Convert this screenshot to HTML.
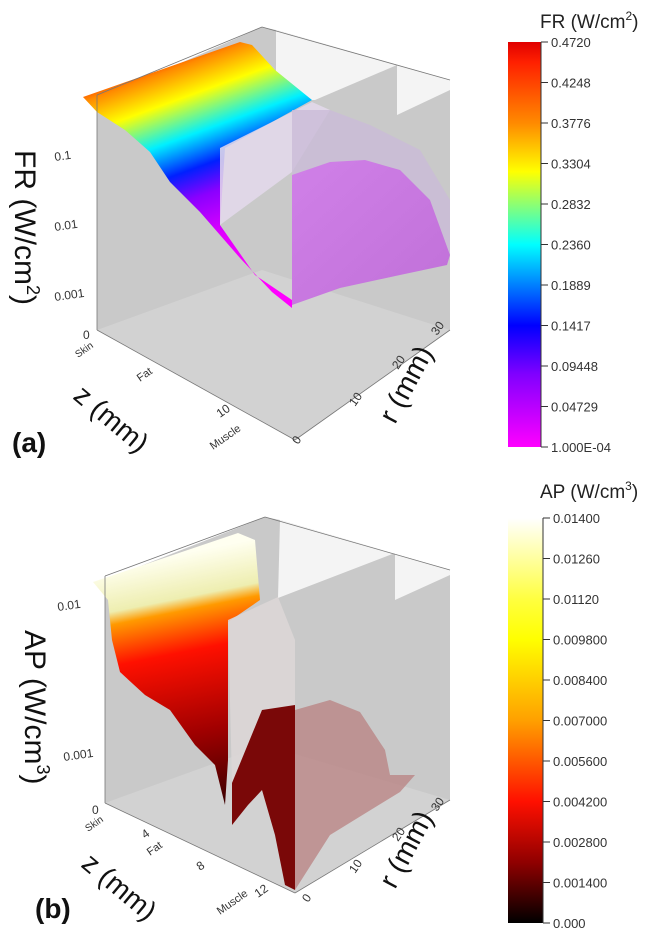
<!DOCTYPE html>
<html><head><meta charset="utf-8"><style>
html,body{margin:0;padding:0;background:#fff}
svg{display:block;font-family:"Liberation Sans",sans-serif}
</style></head><body>
<svg width="645" height="936" viewBox="0 0 645 936">
<defs>
<linearGradient id="gA" gradientUnits="userSpaceOnUse" x1="150" y1="60" x2="230" y2="280">
<stop offset="0" stop-color="#ff2000"/><stop offset="0.07" stop-color="#ff8a00"/><stop offset="0.2" stop-color="#ffff00"/><stop offset="0.36" stop-color="#00f0ff"/><stop offset="0.5" stop-color="#0020ff"/><stop offset="0.62" stop-color="#8a00ff"/><stop offset="0.8" stop-color="#e000ff"/><stop offset="1" stop-color="#ff00ff"/>
</linearGradient>
<linearGradient id="cbA" x1="0" y1="0" x2="0" y2="1">
<stop offset="0" stop-color="#e00000"/><stop offset="0.05" stop-color="#ff2000"/><stop offset="0.2" stop-color="#ff8a00"/><stop offset="0.32" stop-color="#ffff00"/><stop offset="0.5" stop-color="#00ffff"/><stop offset="0.7" stop-color="#0000ff"/><stop offset="0.82" stop-color="#8000ff"/><stop offset="1" stop-color="#ff00ff"/>
</linearGradient>
<linearGradient id="gB" gradientUnits="userSpaceOnUse" x1="150" y1="560" x2="200" y2="810">
<stop offset="0" stop-color="#fffff0"/><stop offset="0.17" stop-color="#eeeeb0"/><stop offset="0.22" stop-color="#ff9a00"/><stop offset="0.38" stop-color="#ff1000"/><stop offset="0.7" stop-color="#a00000"/><stop offset="1" stop-color="#3a0000"/>
</linearGradient>
<linearGradient id="cbB" x1="0" y1="0" x2="0" y2="1">
<stop offset="0" stop-color="#ffffff"/><stop offset="0.2" stop-color="#ffff40"/><stop offset="0.3" stop-color="#ffff00"/><stop offset="0.5" stop-color="#ffa000"/><stop offset="0.7" stop-color="#ff1000"/><stop offset="0.85" stop-color="#900000"/><stop offset="1" stop-color="#000000"/>
</linearGradient>
<linearGradient id="gV" x1="0" y1="0" x2="1" y2="1">
<stop offset="0" stop-color="#d080e8"/><stop offset="1" stop-color="#c070d8"/>
</linearGradient>
</defs>

<!-- PANEL A -->
<g>
<polygon points="97,100 262,27 276,30 450,80 450,330 295,440 97,330" fill="#c9c9c9"/>
<polygon points="97,330 262,270 450,330 295,440" fill="#d2d2d2"/>
<polygon points="276,30 450,80 450,90 397,115 397,65 315,100 276,100" fill="#f4f4f4"/>
<polygon points="83,97 240,42 252,45 275,70 312,100 225,148 220,225 255,275 292,300 292,308 272,292 240,258 200,212 170,182 150,152 125,130 97,112" fill="url(#gA)"/>
<polygon points="220,148 312,102 330,110 292,172 220,225" fill="#e2d8ea" opacity="0.88"/>
<polygon points="292,110 330,110 370,125 420,150 450,200 450,255 430,200 400,170 365,160 330,162 292,175" fill="#cbbcd8" opacity="0.8"/>
<polygon points="292,175 330,162 365,160 400,170 430,200 450,255 447,265 400,275 340,288 292,305" fill="url(#gV)"/>
<g stroke="#777" stroke-width="0.8" fill="none">
<line x1="97" y1="95" x2="97" y2="330"/><line x1="97" y1="95" x2="262" y2="27"/><line x1="262" y1="27" x2="450" y2="80"/>
<line x1="97" y1="330" x2="295" y2="440"/><line x1="295" y1="440" x2="450" y2="330"/>
</g>
<g font-size="12" fill="#333">
<text x="55" y="161" transform="rotate(-8 55 161)">0.1</text>
<text x="55" y="231" transform="rotate(-8 55 231)">0.01</text>
<text x="55" y="301" transform="rotate(-8 55 301)">0.001</text>
<text x="83" y="339">0</text>
<text x="78" y="358" font-size="10" transform="rotate(-35 78 358)">Skin</text>
<text x="140" y="382" font-size="11" transform="rotate(-35 140 382)">Fat</text>
<text x="220" y="418" transform="rotate(-35 220 418)">10</text>
<text x="213" y="450" font-size="11" transform="rotate(-35 213 450)">Muscle</text>
<text x="298" y="445" transform="rotate(-55 298 445)">0</text>
<text x="355" y="407" transform="rotate(-55 355 407)">10</text>
<text x="398" y="370" transform="rotate(-55 398 370)">20</text>
<text x="437" y="336" transform="rotate(-55 437 336)">30</text>
</g>
<text x="10" y="150" font-size="30" fill="#111" transform="rotate(90 10 150) translate(0 -5)">FR (W/cm<tspan font-size="18" dy="-12">2</tspan><tspan dy="12">)</tspan></text>
<text x="72" y="398" font-size="28" fill="#111" transform="rotate(40 72 398)">z (mm)</text>
<text x="395" y="425" font-size="28" fill="#111" transform="rotate(-62 395 425)">r (mm)</text>
<text x="12" y="452" font-size="28" font-weight="bold" fill="#111">(a)</text>
<text x="540" y="28" font-size="19" fill="#222">FR (W/cm<tspan font-size="12" dy="-8">2</tspan><tspan dy="8">)</tspan></text>
<rect x="508" y="42" width="33" height="405" fill="url(#cbA)"/>
<line x1="541" y1="42" x2="541" y2="447" stroke="#333"/>
<g font-size="13" fill="#333" id="tA"></g>
</g>

<!-- PANEL B -->
<g>
<polygon points="105,580 265,517 280,520 450,570 450,800 295,893 105,803" fill="#c9c9c9"/>
<polygon points="105,803 265,745 450,800 295,893" fill="#d2d2d2"/>
<polygon points="280,520 450,570 450,575 395,600 395,553 278,598" fill="#f4f4f4"/>
<polygon points="93,582 238,533 255,540 260,600 228,622 228,760 225,805 215,765 195,745 170,710 145,695 120,672 112,640 108,600" fill="url(#gB)"/>
<polygon points="228,620 278,597 295,640 295,740 232,783" fill="#dcd6d6" opacity="0.9"/>
<polygon points="232,783 262,710 295,705 295,890 285,885 275,835 262,790 248,805 232,825" fill="#7a0808"/>
<polygon points="295,710 330,700 360,712 385,750 390,775 415,775 400,792 330,835 295,890" fill="#b88080" opacity="0.75"/>
<g stroke="#777" stroke-width="0.8" fill="none">
<line x1="105" y1="576" x2="105" y2="803"/><line x1="105" y1="576" x2="265" y2="517"/><line x1="265" y1="517" x2="450" y2="570"/>
<line x1="105" y1="803" x2="295" y2="893"/><line x1="295" y1="893" x2="450" y2="800"/>
</g>
<g font-size="12" fill="#333">
<text x="58" y="611" transform="rotate(-8 58 611)">0.01</text>
<text x="64" y="761" transform="rotate(-8 64 761)">0.001</text>
<text x="92" y="814">0</text>
<text x="88" y="832" font-size="10" transform="rotate(-35 88 832)">Skin</text>
<text x="145" y="839" transform="rotate(-35 145 839)">4</text>
<text x="150" y="856" font-size="11" transform="rotate(-35 150 856)">Fat</text>
<text x="200" y="871" transform="rotate(-35 200 871)">8</text>
<text x="220" y="915" font-size="11" transform="rotate(-35 220 915)">Muscle</text>
<text x="258" y="898" transform="rotate(-35 258 898)">12</text>
<text x="308" y="903" transform="rotate(-55 308 903)">0</text>
<text x="355" y="874" transform="rotate(-55 355 874)">10</text>
<text x="398" y="842" transform="rotate(-55 398 842)">20</text>
<text x="437" y="812" transform="rotate(-55 437 812)">30</text>
</g>
<text x="20" y="630" font-size="30" fill="#111" transform="rotate(90 20 630) translate(0 -5)">AP (W/cm<tspan font-size="18" dy="-12">3</tspan><tspan dy="12">)</tspan></text>
<text x="80" y="866" font-size="28" fill="#111" transform="rotate(40 80 866)">z (mm)</text>
<text x="395" y="890" font-size="28" fill="#111" transform="rotate(-62 395 890)">r (mm)</text>
<text x="35" y="918" font-size="28" font-weight="bold" fill="#111">(b)</text>
<text x="540" y="498" font-size="19" fill="#222">AP (W/cm<tspan font-size="12" dy="-8">3</tspan><tspan dy="8">)</tspan></text>
<rect x="508" y="518" width="35" height="405" fill="url(#cbB)"/>
<line x1="543" y1="518" x2="543" y2="923" stroke="#333"/>
<g font-size="13" fill="#333" id="tB"></g>
</g>
</svg>
<script>
const ticksA = ["0.4720","0.4248","0.3776","0.3304","0.2832","0.2360","0.1889","0.1417","0.09448","0.04729","1.000E-04"];
const ticksB = ["0.01400","0.01260","0.01120","0.009800","0.008400","0.007000","0.005600","0.004200","0.002800","0.001400","0.000"];
const NS = "http://www.w3.org/2000/svg";
function drawTicks(id, labels, x0, y0, y1) {
  const g = document.getElementById(id);
  const step = (y1 - y0) / (labels.length - 1);
  labels.forEach((lab, i) => {
    const y = y0 + i * step;
    const l = document.createElementNS(NS, "line");
    l.setAttribute("x1", x0); l.setAttribute("x2", x0 + 7);
    l.setAttribute("y1", y); l.setAttribute("y2", y);
    l.setAttribute("stroke", "#333");
    
    
    g.appendChild(l);
    const t = document.createElementNS(NS, "text");
    t.setAttribute("x", x0 + 10); t.setAttribute("y", y + 5);
    t.textContent = lab;
    
    
    g.appendChild(t);
  });
}
drawTicks("tA", ticksA, 541, 42, 447);
drawTicks("tB", ticksB, 543, 518, 923);
</script>
</body></html>
